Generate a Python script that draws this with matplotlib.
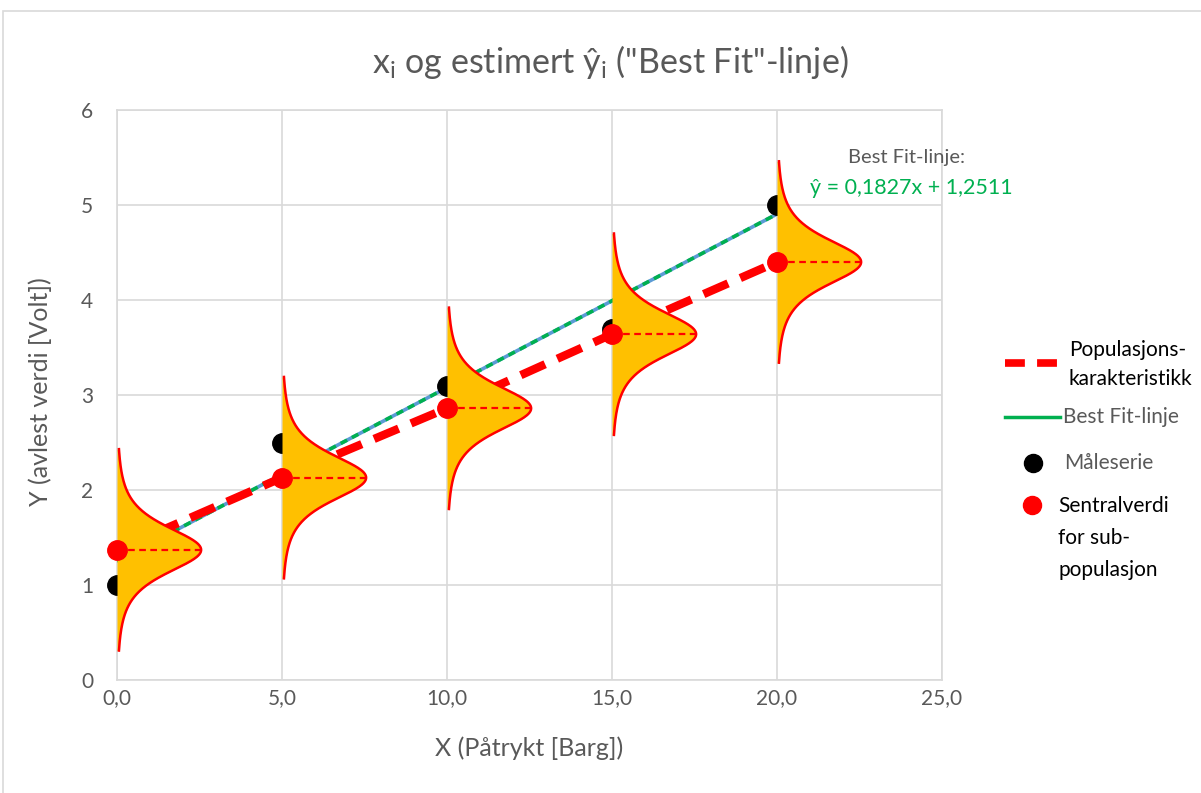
import matplotlib
matplotlib.use("Agg")
import matplotlib.pyplot as plt
import numpy as np
from matplotlib.lines import Line2D
from matplotlib.patches import Rectangle

plt.rcParams['font.family'] = ['Lato', 'DejaVu Sans']
plt.rcParams['mathtext.fontset'] = 'custom'
plt.rcParams['mathtext.rm'] = 'Lato'

# data
x_points = [0, 5, 10, 15, 20]
y_measured = [1.0, 2.5, 3.1, 3.7, 5.0]        # Måleserie
y_central = [1.37, 2.13, 2.86, 3.64, 4.40]    # Sentralverdi for sub-populasjon
fit_slope = 0.1827
fit_intercept = 1.2511
x_ticks = [0, 5, 10, 15, 20, 25]
x_ticklabels = ['0,0', '5,0', '10,0', '15,0', '20,0', '25,0']
y_ticks = [0, 1, 2, 3, 4, 5, 6]

# shape of the sketched distributions
bell_peak = 2.55
bell_half = 1.06
bell_scale = 0.26
bell_dof = 3

GRAY = '#595959'
GRID = '#D9D9D9'
RED = '#FF0000'
ORANGE = '#FFC000'
GREEN = '#00B050'
BLUE = '#5B9BD5'

W, H = 1201, 793
fig = plt.figure(figsize=(W / 100, H / 100), dpi=100)
ax = fig.add_axes([117 / W, 1 - 680 / H, (942 - 117) / W, (680 - 110) / H])

def fx(px):
    return px / W

def fy(py):
    return 1 - py / H

# chart border
fig.add_artist(Rectangle((fx(3), -0.1), 1.2, fy(11) + 0.1, transform=fig.transFigure,
                         fill=False, edgecolor=GRID, lw=1.2))

ax.set_xlim(0, 25)
ax.set_ylim(0, 6)
ax.set_xticks(x_ticks)
ax.set_xticklabels(x_ticklabels)
ax.set_yticks(y_ticks)
ax.grid(True, color=GRID, lw=1.2)
ax.set_axisbelow(True)
for s in ax.spines.values():
    s.set_color(GRID)
    s.set_linewidth(1.2)
ax.tick_params(length=0, colors=GRAY, labelsize=15)
ax.tick_params(axis='x', pad=6)
ax.tick_params(axis='y', pad=17)

# best fit line (blue with green dashes)
xf = np.array([x_points[0], x_points[-1]])
yf = fit_slope * xf + fit_intercept
ax.plot(xf, yf, color=BLUE, lw=2.6, zorder=3, solid_capstyle='butt')
ax.plot(xf, yf, color=GREEN, lw=2.6, ls=(0, (2, 1.5)), zorder=3)

# population characteristic
ax.plot(x_points, y_central, color=RED, lw=6, ls=(0, (3.2, 1.6)), zorder=4)

# measured points
ax.plot(x_points, y_measured, 'o', color='black', ms=14, zorder=5, clip_on=False)

# distributions
for xi, c in zip(x_points, y_central):
    yy = np.linspace(c - bell_half, c + bell_half, 300)
    d = yy - c
    w = bell_peak * (1 + d ** 2 / (bell_dof * bell_scale ** 2)) ** (-(bell_dof + 1) / 2)
    ax.fill_betweenx(yy, xi, xi + w, color=ORANGE, lw=0, zorder=6)
    ax.plot(xi + w, yy, color=RED, lw=1.8, zorder=7)
    ax.plot([xi, xi + bell_peak], [c, c], color=RED, lw=1.6, ls=(0, (3, 2)), zorder=7)

ax.plot(x_points, y_central, 'o', color=RED, ms=14, zorder=8, clip_on=False)

# title and labels
fig.text(fx(610), fy(62), r'x$_\mathregular{i}$ og estimert ŷ$_\mathregular{i}$ ("Best Fit"-linje)',
         ha='center', va='center', fontsize=24.5, color=GRAY)
fig.text(fx(529), fy(748), 'X (Påtrykt [Barg])', ha='center', va='center', fontsize=18, color=GRAY)
fig.text(fx(40), fy(392), 'Y (avlest verdi [Volt])', ha='center', va='center', fontsize=18,
         color=GRAY, rotation=90)

# equation annotation
fig.text(fx(906), fy(158), 'Best Fit-linje:', ha='center', va='center', fontsize=14.5, color=GRAY)
fig.text(fx(911), fy(188), 'ŷ = 0,1827x + 1,2511', ha='center', va='center', fontsize=15.5, color=GREEN)

# hand-placed legend
fig.add_artist(Line2D([fx(1005), fx(1057)], [fy(363), fy(363)], transform=fig.transFigure,
                      color=RED, lw=5.5, ls=(0, (2.6, 1.6))))
fig.text(fx(1069), fy(350), 'Populasjons-', va='center', fontsize=15, color='black')
fig.text(fx(1069), fy(379), 'karakteristikk', va='center', fontsize=15, color='black')

fig.add_artist(Line2D([fx(1005), fx(1060)], [fy(417), fy(417)], transform=fig.transFigure,
                      color=GREEN, lw=2.5))
fig.text(fx(1063), fy(417), 'Best Fit-linje', va='center', fontsize=15, color=GRAY)

fig.add_artist(Line2D([fx(1033)], [fy(463)], transform=fig.transFigure, marker='o',
                      color='black', ms=13, ls='none'))
fig.text(fx(1064), fy(463), 'Måleserie', va='center', fontsize=15, color=GRAY)

fig.add_artist(Line2D([fx(1032)], [fy(505)], transform=fig.transFigure, marker='o',
                      color=RED, ms=13, ls='none'))
fig.text(fx(1058), fy(506), 'Sentralverdi', va='center', fontsize=15, color='black')
fig.text(fx(1058), fy(538), 'for sub-', va='center', fontsize=15, color='black')
fig.text(fx(1058), fy(570), 'populasjon', va='center', fontsize=15, color='black')

fig.savefig('out.png', dpi=100)
